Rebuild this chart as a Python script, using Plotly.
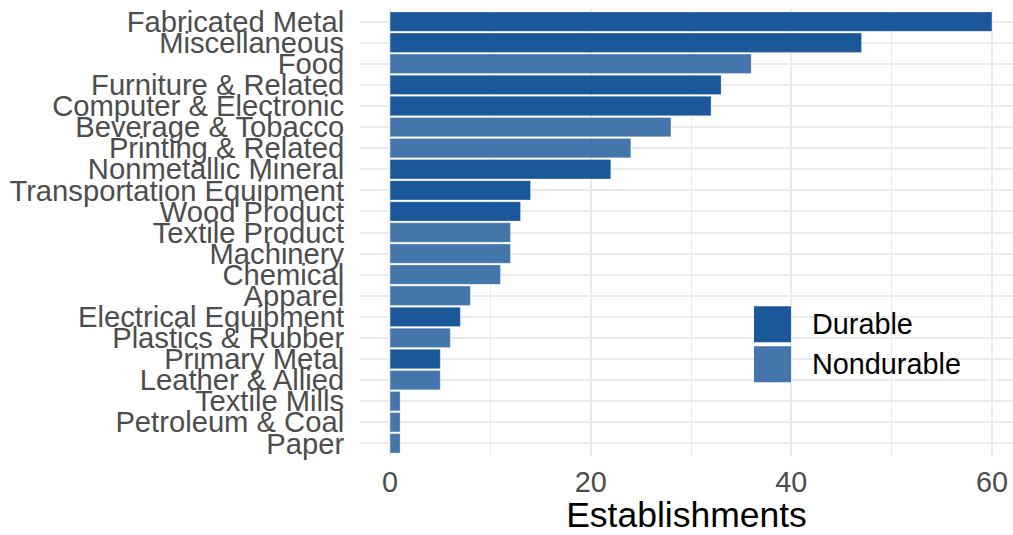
import plotly.graph_objects as go

# Manufacturing subsectors, top to bottom
industries = [
    "Fabricated Metal", "Miscellaneous", "Food", "Furniture & Related",
    "Computer & Electronic", "Beverage & Tobacco", "Printing & Related",
    "Nonmetallic Mineral", "Transportation Equipment", "Wood Product",
    "Textile Product", "Machinery", "Chemical", "Apparel",
    "Electrical Equipment", "Plastics & Rubber", "Primary Metal",
    "Leather & Allied", "Textile Mills", "Petroleum & Coal", "Paper",
]
establishments = [60, 47, 36, 33, 32, 28, 24, 22, 14, 13, 12, 12, 11, 8, 7, 6, 5, 5, 1, 1, 1]
goods_type = [
    "Durable", "Durable", "Nondurable", "Durable", "Durable", "Nondurable",
    "Nondurable", "Durable", "Durable", "Durable", "Nondurable", "Nondurable",
    "Nondurable", "Nondurable", "Durable", "Nondurable", "Durable",
    "Nondurable", "Nondurable", "Nondurable", "Nondurable",
]
x_ticks = [0, 20, 40, 60]

colors = {"Durable": "#1b5899", "Nondurable": "#4476ab"}

W, H = 1013, 535
L, R, T, B = 360, 0, 9.4, 79.4

fig = go.Figure()
for g in ["Durable", "Nondurable"]:
    ys = [c for c, t in zip(industries, goods_type) if t == g]
    xs = [v for v, t in zip(establishments, goods_type) if t == g]
    fig.add_trace(go.Bar(
        x=xs, y=ys, orientation="h", name=g, width=0.92,
        marker=dict(color=colors[g], line=dict(color="rgba(255,255,255,0.5)", width=0.6)),
        showlegend=False,
    ))

n = len(industries)
fig.update_layout(
    width=W, height=H,
    margin=dict(l=L, r=R, t=T, b=B),
    plot_bgcolor="white", paper_bgcolor="white",
    barmode="relative",
    font=dict(family="Liberation Sans, Arial, sans-serif"),
    xaxis=dict(
        range=[-3, 62.1], tickvals=x_ticks, ticktext=[str(v) for v in x_ticks],
        automargin=False,
        showgrid=True, gridcolor="#ebebeb", gridwidth=2.2,
        minor=dict(tickvals=[10, 30, 50], showgrid=True, gridcolor="#ebebeb", gridwidth=1.2),
        zeroline=False, showline=False, ticks="outside", ticklen=0.5, tickcolor="rgba(0,0,0,0)",
        tickfont=dict(size=28.8, color="#4d4d4d"),
        title=dict(text="Establishments", font=dict(size=35.5, color="black"), standoff=22),
    ),
    yaxis=dict(
        type="category", categoryorder="array", categoryarray=industries,
        tickmode="linear", tick0=0, dtick=1,
        range=[n - 1 + 0.6, -0.6],
        automargin=False,
        showgrid=True, gridcolor="#ebebeb", gridwidth=2.2,
        zeroline=False, showline=False, ticks="outside", ticklen=9, tickcolor="rgba(0,0,0,0)",
        tickfont=dict(size=29.2, color="#4d4d4d"),
    ),
)

# Legend drawn as large keys in pixel space
def px_x(p):
    return (p - L) / (W - L - R)

def px_y(p):
    return (H - B - p) / (H - B - T)

legend_rows = [("Durable", 306, 342, 324), ("Nondurable", 346, 382, 364)]
for name, y0, y1, yc in legend_rows:
    fig.add_shape(type="rect", xref="paper", yref="paper",
                  x0=px_x(754), x1=px_x(791), y0=px_y(y1), y1=px_y(y0),
                  fillcolor=colors[name], line=dict(width=0), layer="above")
    fig.add_annotation(xref="paper", yref="paper", x=px_x(810), y=px_y(yc),
                       text=name, showarrow=False, xanchor="left", yanchor="middle",
                       font=dict(size=28.8, color="black"))

fig.write_html("out.html")
